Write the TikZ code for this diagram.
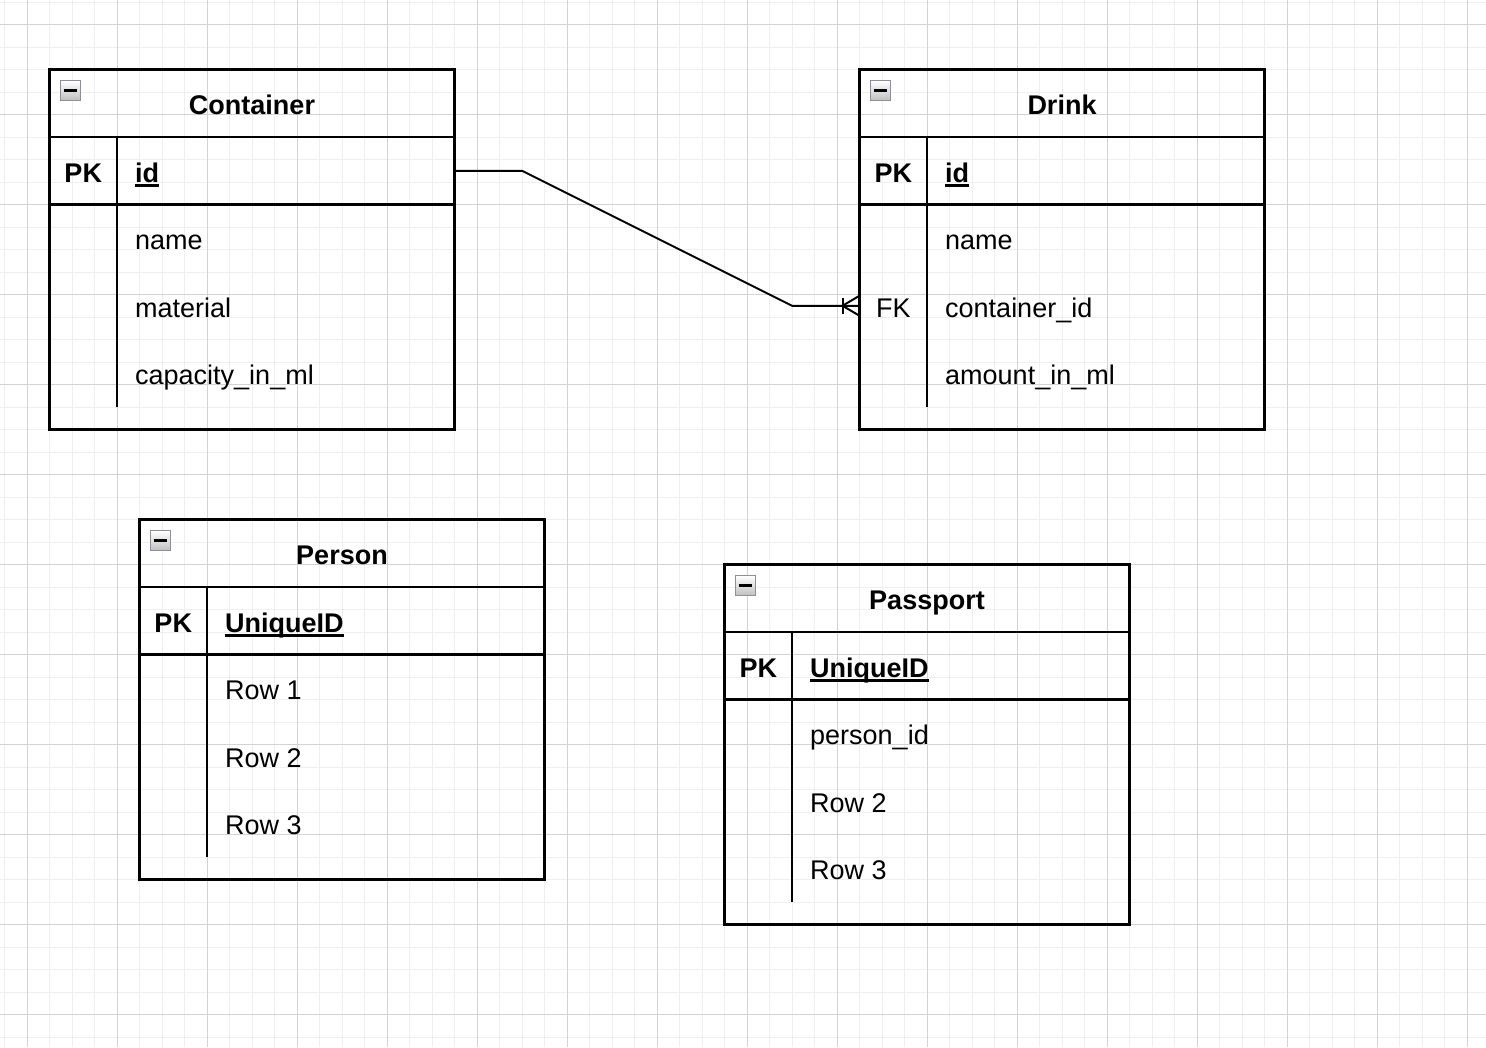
\documentclass[tikz,border=0pt]{standalone}
\usepackage{fontspec}
\setmainfont{Liberation Sans}
\definecolor{gridminor}{HTML}{EFEFEF}
\definecolor{gridmajor}{HTML}{D3D3D3}
\definecolor{iconedge}{HTML}{8E8E9C}
\newcommand{\ulin}[1]{\setbox0=\hbox{#1}\rlap{\rule[-4.5pt]{\wd0}{2.3pt}}\box0}
\tikzset{
  tbl/.style={line width=2.1pt, draw=black, line cap=rect},
  conn/.style={line width=2pt, draw=black},
  iconbox/.style={line width=1pt, draw=iconedge, top color=white, bottom color=gray!50},
  titletext/.style={anchor=base, inner sep=0pt, font=\fontsize{27}{32}\selectfont\bfseries},
  keytext/.style={anchor=base, inner sep=0pt, font=\fontsize{27}{32}\selectfont},
  fieldtext/.style={anchor=base west, inner sep=0pt, font=\fontsize{27}{32}\selectfont},
  rowbox/.style={anchor=north west, inner sep=0pt, outer sep=0pt, minimum width=405pt, minimum height=67.5pt},
}
% #1 name, #2 x, #3 y, #4 title, #5 pk field, #6 row1, #7 row2, #8 row3, #9 key of row2
\newcommand{\ertable}[9]{%
\begin{scope}[shift={(#2,#3)}]
  \draw[tbl] (0,0) rectangle (405,360);
  \draw[tbl] (0,67.5) -- (405,67.5);
  \draw[tbl] (0,135) -- (405,135);
  \draw[tbl, line cap=butt] (67.5,67.5) -- (67.5,337.5);
  \draw[iconbox] (10.5,11) rectangle (30.5,31);
  \draw[line width=2.5pt] (14,21) -- (27,21);
  \node[titletext] (#1-title) at (202.5,45) {#4};
  \node[rowbox] (#1-pk) at (0,67.5) {};
  \node[rowbox] (#1-r1) at (0,135) {};
  \node[rowbox] (#1-r2) at (0,202.5) {};
  \node[rowbox] (#1-r3) at (0,270) {};
  \node[titletext] (#1-pkkey) at (33.75,112.5) {PK};
  \node[fieldtext, font=\fontsize{27}{32}\selectfont\bfseries] (#1-pkname) at (85.5,112.5) {\ulin{#5}};
  \node[fieldtext] (#1-f1) at (85.5,180) {#6};
  \node[fieldtext] (#1-f2) at (85.5,247.5) {#7};
  \node[fieldtext] (#1-f3) at (85.5,315) {#8};
  \node[keytext] (#1-k2) at (33.75,247.5) {#9};
\end{scope}}
\begin{document}
\begin{tikzpicture}[x=1pt,y=-1pt]
\fill[white] (0,0) rectangle (1486,1047);
\useasboundingbox (0,0) rectangle (1486,1047);
% grid
\foreach \gx in {4.5,27,...,1486} \draw[gridminor, line width=1pt] (\gx,0) -- (\gx,1047);
\foreach \gy in {2,24.5,...,1047} \draw[gridminor, line width=1pt] (0,\gy) -- (1486,\gy);
\foreach \gx in {27,117,...,1486} \draw[gridmajor, line width=1pt] (\gx,0) -- (\gx,1047);
\foreach \gy in {24.5,114.5,...,1047} \draw[gridmajor, line width=1pt] (0,\gy) -- (1486,\gy);
% tables
\ertable{c}{49.5}{69.5}{Container}{id}{name}{material}{capacity\_in\_ml}{}
\ertable{d}{859.5}{69.5}{Drink}{id}{name}{container\_id}{amount\_in\_ml}{FK}
\ertable{p}{139.5}{519.5}{Person}{UniqueID}{Row 1}{Row 2}{Row 3}{}
\ertable{q}{724.5}{564.5}{Passport}{UniqueID}{person\_id}{Row 2}{Row 3}{}
% relationship
\draw[conn] (c-pk.east) -- ([xshift=67.5pt]c-pk.east) -- ([xshift=-67.5pt]d-r2.west) -- (d-r2.west);
\draw[conn] ([xshift=-17pt,yshift=8pt]d-r2.west) -- ([xshift=-17pt,yshift=-8pt]d-r2.west);
\draw[conn] ([yshift=10pt]d-r2.west) -- ([xshift=-17pt]d-r2.west) -- ([yshift=-10pt]d-r2.west);
\end{tikzpicture}
\end{document}
